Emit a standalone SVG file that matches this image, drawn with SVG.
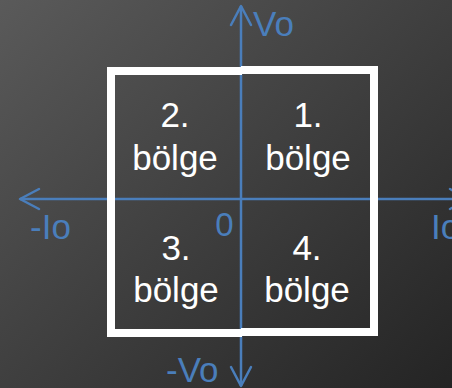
<svg xmlns="http://www.w3.org/2000/svg" width="452" height="388" viewBox="0 0 452 388">
  <defs>
    <linearGradient id="bg" x1="0" y1="0" x2="1" y2="1">
      <stop offset="0" stop-color="#5a5a5a"/>
      <stop offset="1" stop-color="#242424"/>
    </linearGradient>
    <marker id="arr" markerUnits="userSpaceOnUse" markerWidth="30" markerHeight="30" viewBox="-25 -15 30 30" refX="0" refY="0" orient="auto-start-reverse" overflow="visible">
      <path d="M-19,-10 L0,0 L-19,10" fill="none" stroke="#4a7ebb" stroke-width="2.5" stroke-linecap="round" stroke-linejoin="round"/>
    </marker>
    <style>
      .axis { stroke: #4a7ebb; stroke-width: 2.5; fill: none; }
      .frame { fill: none; stroke: #ffffff; stroke-width: 8; stroke-linejoin: miter; }
      .q { font-family: "Liberation Sans", Arial, sans-serif; font-size: 35px; fill: #ffffff; text-anchor: middle; }
      .lbl { font-family: "Liberation Sans", Arial, sans-serif; font-size: 35px; fill: #4a7ebb; }
    </style>
  </defs>
  <rect x="0" y="0" width="452" height="388" fill="url(#bg)"/>

  <g id="connectors">
    <line class="axis" x1="241" y1="386" x2="241" y2="6" marker-end="url(#arr)" marker-start="url(#arr)"/>
    <line class="axis" x1="20" y1="199" x2="469" y2="199" marker-start="url(#arr)" marker-end="url(#arr)"/>
  </g>

  <g id="frame">
    <path class="frame" d="M242,71 H111 V333 H242"/>
    <path class="frame" d="M241,70 H374 V332 H241"/>
  </g>

  <g id="q2">
    <text class="q" x="175" y="127">2.</text>
    <text class="q" x="175" y="170">bölge</text>
  </g>
  <g id="q1">
    <text class="q" x="308" y="127">1.</text>
    <text class="q" x="308" y="170">bölge</text>
  </g>
  <g id="q3">
    <text class="q" x="176" y="260">3.</text>
    <text class="q" x="176" y="302">bölge</text>
  </g>
  <g id="q4">
    <text class="q" x="307" y="260">4.</text>
    <text class="q" x="307" y="302">bölge</text>
  </g>

  <g id="labels">
    <text class="lbl" x="253" y="36">Vo</text>
    <text class="lbl" x="166" y="382">-Vo</text>
    <text class="lbl" x="30" y="239">-Io</text>
    <text class="lbl" x="431" y="239">Io</text>
    <text class="lbl" x="224.5" y="236" text-anchor="middle" style="font-size:33px">0</text>
  </g>
</svg>
